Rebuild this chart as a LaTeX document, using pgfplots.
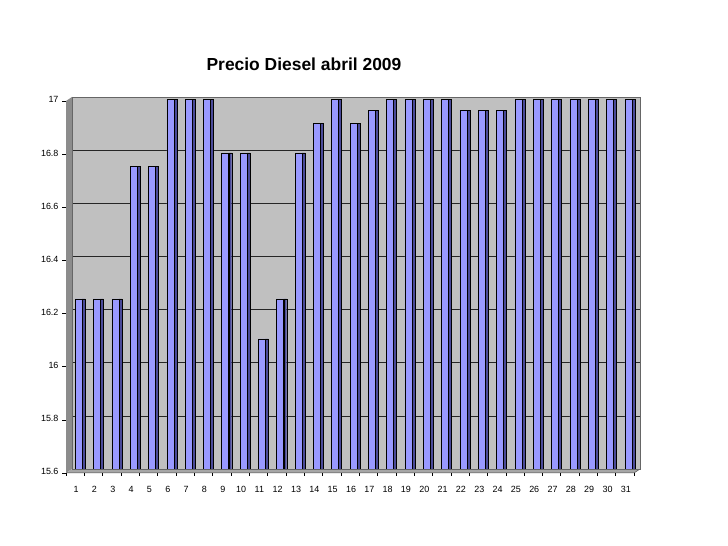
\documentclass[border=0pt]{standalone}
\usepackage{pgfplots}
\pgfplotsset{compat=1.18}
\usepackage{fontspec}
\setmainfont{Liberation Sans}
\definecolor{wall}{HTML}{C0C0C0}
\definecolor{sidewall}{HTML}{8C8C8C}
\definecolor{floorc}{HTML}{A6A6A6}
\definecolor{barfront}{HTML}{9999FF}
\definecolor{barside}{HTML}{4A4A99}
\begin{document}
\begin{tikzpicture}[x=1bp,y=1bp]
\useasboundingbox (0,0) rectangle (728,546);
% side wall and floor
\fill[sidewall] (66,73) -- (72,77) -- (72,449) -- (66,445) -- cycle;
\fill[floorc] (66,73) -- (72,77) -- (640,77) -- (634,73) -- cycle;
\draw[black!70, line width=0.5bp] (66,73) -- (634,73) -- (640,77);
\node[font=\bfseries\fontsize{17.5}{20}\selectfont] at (304,482) {Precio Diesel abril 2009};
\begin{axis}[
  at={(72bp,77bp)}, anchor=south west,
  scale only axis, width=568bp, height=372bp,
  xmin=0.5, xmax=31.5, ymin=15.6, ymax=17,
  axis background/.style={fill=wall},
  axis line style={black!60, line width=0.5bp},
  xtick pos=bottom, ytick pos=left,
  ytick={15.6,15.8,16,16.2,16.4,16.6,16.8,17},
  xtick={1,...,31},
  minor xtick={0.5,1.5,...,31.5},
  major x tick style={draw=none},
  minor x tick style={black, line width=0.5bp, xshift=-6bp, yshift=-4bp},
  minor tick length=3bp,
  ytick style={black, line width=0.5bp, xshift=-6bp, yshift=-4bp},
  major tick length=4bp,
  tick align=outside,
  ymajorgrids, grid style={black!85, line width=0.6bp},
  /pgf/number format/assume math mode=true,
  typeset ticklabels with strut,
  ticklabel style={font=\fontsize{9}{10}\selectfont},
  yticklabel style={xshift=-6bp, yshift=-4bp},
  xticklabel style={xshift=-5bp, yshift=-9bp},
  clip=true,
]
\addplot[ybar, bar width=3bp, bar shift=2.5bp, fill=barside, draw=black, line width=0.4bp] coordinates {
(1,16.24) (2,16.24) (3,16.24) (4,16.74) (5,16.74) (6,16.99) (7,16.99) (8,16.99)
(9,16.79) (10,16.79) (11,16.09) (12,16.24) (13,16.79) (14,16.90) (15,16.99)
(16,16.90) (17,16.95) (18,16.99) (19,16.99) (20,16.99) (21,16.99) (22,16.95)
(23,16.95) (24,16.95) (25,16.99) (26,16.99) (27,16.99) (28,16.99) (29,16.99)
(30,16.99) (31,16.99)};
\addplot[ybar, bar width=7bp, bar shift=-2.5bp, fill=barfront, draw=black, line width=0.5bp] coordinates {
(1,16.24) (2,16.24) (3,16.24) (4,16.74) (5,16.74) (6,16.99) (7,16.99) (8,16.99)
(9,16.79) (10,16.79) (11,16.09) (12,16.24) (13,16.79) (14,16.90) (15,16.99)
(16,16.90) (17,16.95) (18,16.99) (19,16.99) (20,16.99) (21,16.99) (22,16.95)
(23,16.95) (24,16.95) (25,16.99) (26,16.99) (27,16.99) (28,16.99) (29,16.99)
(30,16.99) (31,16.99)};
\end{axis}
\end{tikzpicture}
\end{document}
